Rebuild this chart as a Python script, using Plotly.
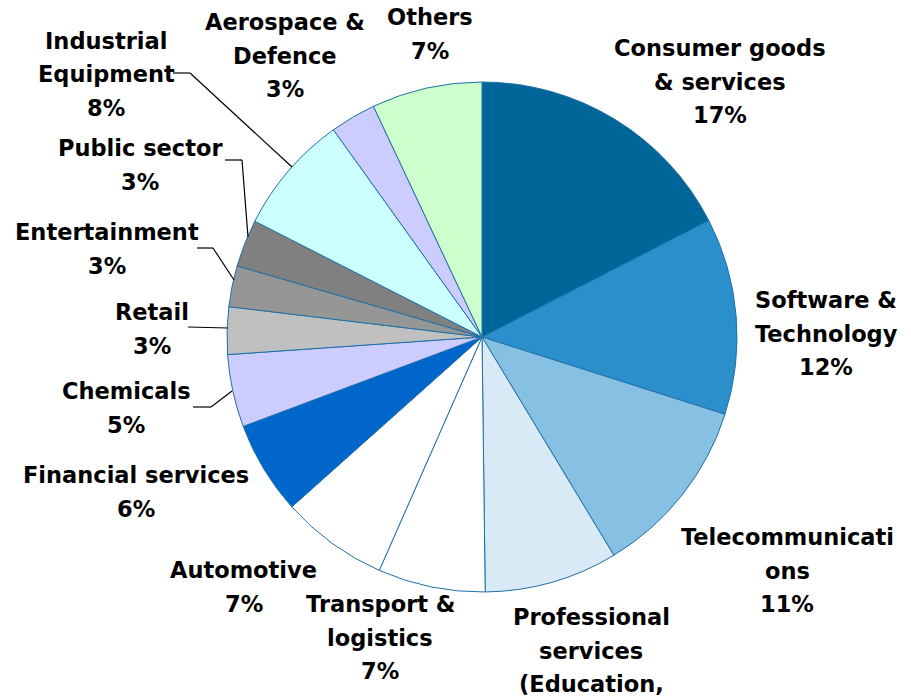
import plotly.graph_objects as go

# Sector shares (%), clockwise from 12 o'clock
sectors = [
    "Consumer goods & services", "Software & Technology", "Telecommunications",
    "Professional services (Education, Healthcare)", "Transport & logistics",
    "Automotive", "Financial services", "Chemicals", "Retail", "Entertainment",
    "Public sector", "Industrial Equipment", "Aerospace & Defence", "Others",
]
shares = [17.45, 12.45, 11.45, 8.45, 6.8, 6.8, 5.9, 4.6, 3.0, 2.6, 3.0, 7.6, 2.9, 7.0]
colors = [
    "#006699", "#2A8FCA", "#86C1E4", "#D8EAF6", "#FFFFFF", "#FFFFFF", "#0066CC",
    "#CCCCFF", "#C0C0C0", "#969696", "#808080", "#CCFFFF", "#CCCCFF", "#CCFFCC",
]
# Wrapped label lines as printed beside each slice
label_lines = [
    ["Consumer goods", "& services"],
    ["Software &", "Technology"],
    ["Telecommunicati", "ons"],
    ["Professional", "services", "(Education,", "Healthcare)"],
    ["Transport &", "logistics"],
    ["Automotive"],
    ["Financial services"],
    ["Chemicals"],
    ["Retail"],
    ["Entertainment"],
    ["Public sector"],
    ["Industrial", "Equipment"],
    ["Aerospace &", "Defence"],
    ["Others"],
]

W, H = 911, 696
CX, CY, R = 482, 337, 255  # pie centre and radius in pixels
LINE_H = 33.5

# Label block anchors: (centre x, centre y of first line) in pixels
label_pos = [
    (720, 48), (826, 300), (787, 537), (591, 617), (380, 604), (244, 570),
    (136, 475), (126, 391), (152, 312), (107, 232), (140, 148), (106, 41),
    (285, 22), (430, 17),
]

# Leader lines (pixel polylines) for the crowded left-hand labels
leaders = {
    "Industrial Equipment": [(173, 73), (190, 73), (292, 167)],
    "Public sector": [(225, 160), (242, 160), (248, 237)],
    "Entertainment": [(197, 248), (213, 248), (234, 280)],
    "Retail": [(188, 327), (228, 328)],
    "Chemicals": [(193, 407), (211, 407), (232, 391)],
}


def px(x):
    return x / W


def py(y):
    return 1 - y / H


fig = go.Figure(go.Pie(
    labels=sectors,
    values=shares,
    sort=False,
    direction="clockwise",
    rotation=0,
    marker=dict(colors=colors, line=dict(color="#1F70A8", width=1)),
    textinfo="none",
    hoverinfo="label+percent",
    domain=dict(x=[px(CX - R), px(CX + R)], y=[py(CY + R), py(CY - R)]),
))

total = sum(shares)
font = dict(family="DejaVu Sans", size=22.5, color="#000000", weight="bold")
annotations = []
for lines, share, (lx, ly) in zip(label_lines, shares, label_pos):
    pct = f"{round(share / total * 100):d}%"
    # the percentage follows the wrapped name lines
    rows = lines + [pct]
    for i, txt in enumerate(rows):
        annotations.append(dict(
            x=px(lx), y=py(ly + i * LINE_H), xref="paper", yref="paper",
            text=txt, showarrow=False, xanchor="center", yanchor="middle",
            font=font,
        ))

shapes = []
for pts in leaders.values():
    for (x0, y0), (x1, y1) in zip(pts[:-1], pts[1:]):
        shapes.append(dict(
            type="line", xref="paper", yref="paper",
            x0=px(x0), y0=py(y0), x1=px(x1), y1=py(y1),
            line=dict(color="#000000", width=1.2),
        ))

fig.update_layout(
    width=W, height=H,
    margin=dict(l=0, r=0, t=0, b=0),
    paper_bgcolor="#FFFFFF",
    plot_bgcolor="#FFFFFF",
    showlegend=False,
    annotations=annotations,
    shapes=shapes,
)

fig.write_html("out.html")
